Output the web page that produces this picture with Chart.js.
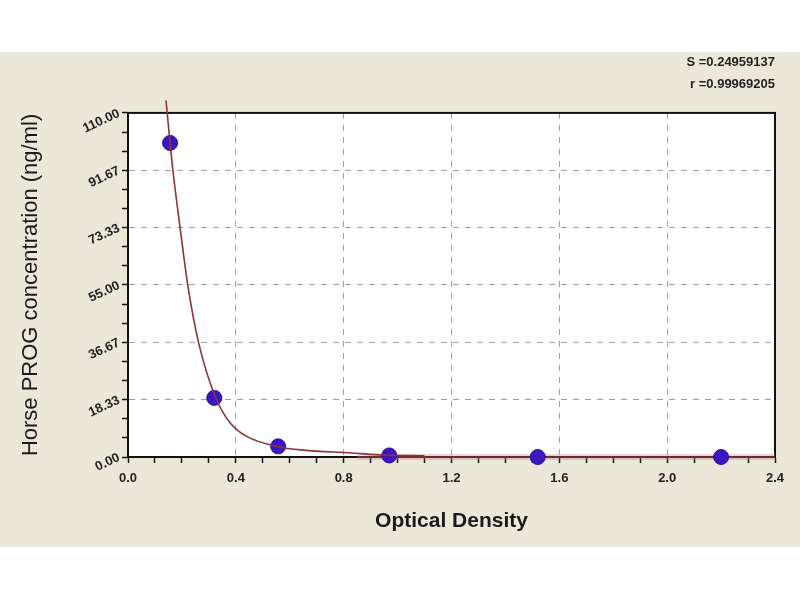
<!DOCTYPE html>
<html>
<head>
<meta charset="utf-8">
<script src="https://cdn.jsdelivr.net/npm/chart.js@4/dist/chart.umd.min.js"></script>
<style>
  html, body { margin: 0; padding: 0; background: #fff; }
  #wrap { width: 800px; height: 600px; }
</style>
</head>
<body>
<div id="wrap"><canvas id="stdCurve" width="800" height="600"></canvas></div>
<script>
// DATA
const pointX = [0.156, 0.32, 0.557, 0.969, 1.52, 2.2];
const pointY = [100.4, 18.9, 3.4, 0.5, 0, 0];

const curveX = [0.141, 0.156, 0.166, 0.193, 0.222, 0.262, 0.326, 0.38, 0.442, 0.557, 0.65, 0.83, 0.95, 1.1];
const curveY = [114, 100.4, 92, 73.5, 54.8, 36.5, 18.8, 10.8, 6.5, 3.3, 2.2, 1.3, 0.6, 0.4];

const tailX = [0.85, 2.4];
const tailY = [0, 0];

const xMajorTicks = [0, 0.4, 0.8, 1.2, 1.6, 2.0, 2.4];
const xTickLabels = ['0.0', '0.4', '0.8', '1.2', '1.6', '2.0', '2.4'];
const yMajorTicks = [0, 18.33, 36.67, 55, 73.33, 91.67, 110];
const yTickLabels = ['0.00', '18.33', '36.67', '55.00', '73.33', '91.67', '110.00'];

const fitStats = ['S =0.24959137', 'r =0.99969205'];

const toXY = (xs, ys) => xs.map((x, i) => ({x: x, y: ys[i]}));

// major ticks plus minor ones in between
const withMinor = (majors, parts) => {
    const out = [];
    majors.forEach((v, i) => {
        out.push({value: v, major: true});
        if (i < majors.length - 1) {
            const step = (majors[i + 1] - v) / parts;
            for (let k = 1; k < parts; k++) out.push({value: v + step * k, major: false});
        }
    });
    return out;
};

const tickFont = {family: "'Liberation Sans', Arial, sans-serif", size: 13, weight: 'bold'};

// BACKGROUND + FRAME
const panelPlugin = {
    id: 'panel',
    beforeDraw(chart) {
        const {ctx, chartArea} = chart;
        ctx.save();
        ctx.fillStyle = '#ffffff';
        ctx.fillRect(0, 0, chart.width, chart.height);
        ctx.fillStyle = '#ebe8da';
        ctx.fillRect(0, 52, chart.width, 495);
        ctx.fillStyle = '#ffffff';
        ctx.fillRect(chartArea.left, chartArea.top, chartArea.right - chartArea.left, chartArea.bottom - chartArea.top);
        ctx.restore();
    },
    beforeDatasetsDraw(chart) {
        const {ctx, chartArea} = chart;
        ctx.save();
        ctx.strokeStyle = '#111';
        ctx.lineWidth = 2;
        ctx.strokeRect(chartArea.left, chartArea.top, chartArea.right - chartArea.left, chartArea.bottom - chartArea.top);
        ctx.restore();
    }
};

const ctx = document.getElementById('stdCurve').getContext('2d');

const stdChart = new Chart(ctx, {
    type: 'scatter',
    data: {
        datasets: [{
            label: 'Fit',
            data: toXY(curveX, curveY),
            showLine: true,
            borderColor: '#8a3434',
            borderWidth: 1.6,
            pointRadius: 0,
            cubicInterpolationMode: 'monotone',
            clip: false,
        },
        {
            label: 'Standards',
            data: toXY(pointX, pointY),
            backgroundColor: '#3b16c2',
            borderColor: '#2c0f99',
            borderWidth: 1,
            pointRadius: 7.5,
            clip: false,
        },
        {
            label: 'Tail',
            data: toXY(tailX, tailY),
            showLine: true,
            borderColor: 'rgba(225, 120, 120, 0.35)',
            borderWidth: 6,
            pointRadius: 0,
            clip: false,
        }]
    },
    options: {
        responsive: false,
        animation: false,
        layout: {
            padding: {left: 0, right: 25, top: 52, bottom: 53}
        },
        plugins: {
            legend: {display: false},
            tooltip: {enabled: false},
            title: {
                display: true,
                text: fitStats,
                align: 'end',
                color: '#222',
                font: {family: tickFont.family, size: 13, weight: 'bold', lineHeight: 1.65},
                padding: {top: 0, bottom: 18}
            }
        },
        scales: {
            x: {
                type: 'linear',
                min: 0,
                max: 2.4,
                afterBuildTicks: (scale) => { scale.ticks = withMinor(xMajorTicks, 4); },
                afterFit: (scale) => { scale.height = 90; },
                grid: {
                    color: (c) => (c.tick && c.tick.major) ? '#a0a0a0' : 'rgba(0,0,0,0)',
                    tickColor: '#111',
                    tickLength: 6,
                    tickWidth: 1.5,
                },
                border: {color: '#111', width: 2, dash: [6, 6]},
                ticks: {
                    autoSkip: false,
                    maxRotation: 0,
                    padding: 8,
                    color: '#222',
                    font: tickFont,
                    callback: function(value, index, ticks) {
                        const i = xMajorTicks.indexOf(ticks[index].value);
                        return ticks[index].major && i >= 0 ? xTickLabels[i] : '';
                    }
                },
                title: {
                    display: true,
                    text: 'Optical Density',
                    color: '#1a1a1a',
                    font: {family: "'Liberation Sans', Arial, sans-serif", size: 21, weight: 'bold'},
                    padding: {top: 0, bottom: 13}
                }
            },
            y: {
                type: 'linear',
                min: 0,
                max: 110,
                afterBuildTicks: (scale) => { scale.ticks = withMinor(yMajorTicks, 3); },
                afterFit: (scale) => { scale.width = 128; },
                grid: {
                    color: (c) => (c.tick && c.tick.major) ? '#a0a0a0' : 'rgba(0,0,0,0)',
                    tickColor: '#111',
                    tickLength: 6,
                    tickWidth: 1.5,
                },
                border: {color: '#111', width: 2, dash: [6, 6]},
                ticks: {
                    autoSkip: false,
                    minRotation: 25,
                    maxRotation: 25,
                    padding: 3,
                    color: '#222',
                    font: tickFont,
                    callback: function(value, index, ticks) {
                        const i = yMajorTicks.indexOf(ticks[index].value);
                        return ticks[index].major && i >= 0 ? yTickLabels[i] : '';
                    }
                },
                title: {
                    display: true,
                    text: 'Horse PROG concentration (ng/ml)',
                    color: '#1a1a1a',
                    font: {family: "'Liberation Sans', Arial, sans-serif", size: 22},
                    padding: {top: 18, bottom: 0}
                }
            }
        }
    },
    plugins: [panelPlugin]
});
</script>
</body>
</html>
